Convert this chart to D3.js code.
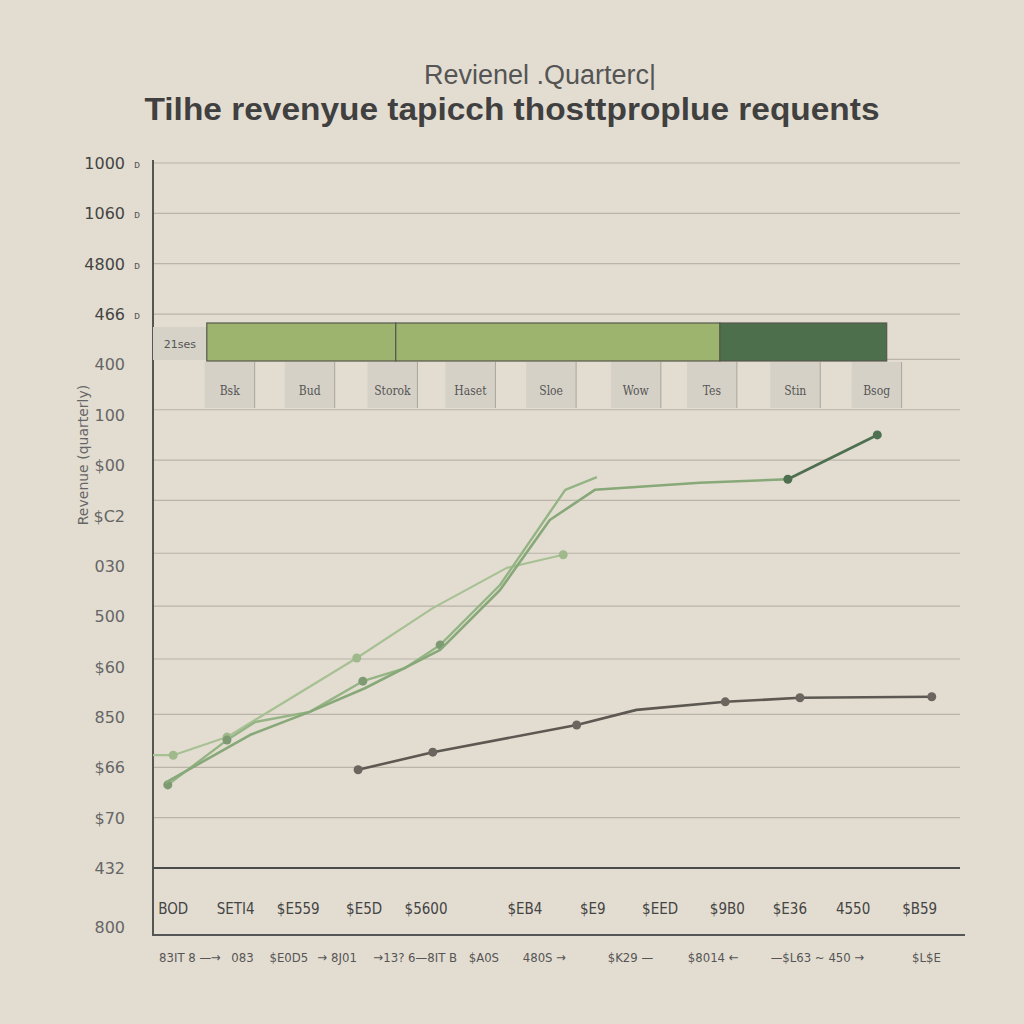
<!DOCTYPE html>
<html><head><meta charset="utf-8">
<script src="https://cdn.jsdelivr.net/npm/d3@7"></script>
<style>
html,body{margin:0;padding:0;background:#e3ddd1;}
svg{display:block;}
</style></head>
<body><svg id="c" width="1024" height="1024"></svg>
<script>
// ---- data ----
const titleTop = "Revienel .Quarterc|";
const titleMain = "Tilhe revenyue tapicch thosttproplue requents";
const yAxisTitle = "Revenue (quarterly)";
const yTickLabels = ["1000","1060","4800","466","400","100","$00","$C2","030","500","$60","850","$66","$70","432","800"];
const yTickValues = [1400,1300,1200,1100,1000,900,800,700,600,500,400,300,200,100,0,-117];
const gridValues = [1400,1300,1200,1100,1010,910,810,730,625,520,415,305,200,100];
const xTopLabels = ["BOD","SETI4","$E559","$E5D","$5600","$EB4","$E9","$EED","$9B0","$E36","4550","$B59"];
const xTopPos = [0.3,1.23,2.16,3.14,4.06,5.53,6.54,7.54,8.54,9.47,10.41,11.4];
const xBottomLabels = ["83IT 8 \u2014\u2192","083","$E0D5","\u2192 8J01","\u219213? 6\u20148IT B","$A0S","480S \u2192","$K29 \u2014","$8014 \u2190","\u2014$L63 ~ 450 \u2192","$L$E"];
const xBottomPos = [0.55,1.33,2.02,2.74,3.9,4.92,5.82,7.1,8.33,9.88,11.5];
const legendBarLabel = "21ses";
const legendSegStart = [0.80,3.61,8.43];
const legendSegEnd = [3.61,8.43,10.91];
const legendSegKind = ["light","light","dark"];
const legendLabels = ["Bsk","Bud","Storok","Haset","Sloe","Wow","Tes","Stin","Bsog"];
const legendLabelPos = [1.14,2.33,3.56,4.72,5.92,7.18,8.31,9.55,10.76];

const seriesAx = [0.0,0.30,1.10,3.03,4.16,5.26,6.10];
const seriesAy = [224,224,260,417,516,596,622];
const seriesBx = [0.22,1.10,1.52,2.33,3.12,3.75,4.27,5.16,6.13,6.60];
const seriesBy = [165,254,290,310,371,397,443,562,751,776];
const seriesCx = [0.18,1.44,2.33,3.15,4.27,5.16,5.90,6.57,8.13,9.44];
const seriesCy = [169,264,310,357,433,552,691,751,765,772];
const seriesDx = [9.44,10.77];
const seriesDy = [772,860];
const seriesEx = [3.05,4.16,6.30,7.19,8.51,9.62,11.58];
const seriesEy = [195,230,284,314,330,338,340];

// ---- drawing ----
const svg = d3.select("#c");
svg.append("rect").attr("width",1024).attr("height",1024).attr("fill","#e3ddd1");

const x = d3.scaleLinear().domain([0,12]).range([153,960]);
const y = d3.scaleLinear().domain([0,1400]).range([868,163]);

// titles
svg.append("text").attr("x",540).attr("y",84).attr("text-anchor","middle")
  .attr("font-family","Liberation Sans, Arial, sans-serif").attr("font-size",27)
  .attr("fill","#555").text(titleTop);
svg.append("text").attr("x",512).attr("y",120).attr("text-anchor","middle")
  .attr("font-family","Liberation Sans, Arial, sans-serif").attr("font-weight","bold")
  .attr("font-size",31).attr("fill","#404040").attr("textLength",735)
  .attr("lengthAdjust","spacingAndGlyphs").text(titleMain);

// grid
svg.append("g").selectAll("line").data(gridValues).join("line")
  .attr("x1",x(0)).attr("x2",x(12)).attr("y1",d=>y(d)).attr("y2",d=>y(d))
  .attr("stroke","#b9b3a8").attr("stroke-width",1.2);

// y tick labels
const yg = svg.append("g");
yg.selectAll("text").data(yTickLabels).join("text")
  .attr("x",125).attr("y",(d,i)=>y(yTickValues[i])+6).attr("text-anchor","end")
  .attr("font-family","DejaVu Sans, sans-serif").attr("font-size",16)
  .attr("fill",(d,i)=>i<4?"#444":"#666").text(d=>d);
yg.selectAll("text.m").data(yTickValues.slice(0,4)).join("text").attr("class","m")
  .attr("x",137).attr("y",d=>y(d)+5).attr("text-anchor","middle")
  .attr("font-family","DejaVu Sans, sans-serif").attr("font-size",10).attr("fill","#555").text("\u1d05");

// y axis title
svg.append("text").attr("transform","translate(88,455) rotate(-90)").attr("text-anchor","middle")
  .attr("font-family","DejaVu Sans, sans-serif").attr("font-size",14).attr("fill","#666")
  .text(yAxisTitle);

// axes lines
svg.append("line").attr("x1",153).attr("x2",153).attr("y1",160).attr("y2",936)
  .attr("stroke","#555").attr("stroke-width",2);
svg.append("line").attr("x1",153).attr("x2",x(12)).attr("y1",y(0)).attr("y2",y(0))
  .attr("stroke","#4a4a4a").attr("stroke-width",2.2);
svg.append("line").attr("x1",153).attr("x2",965).attr("y1",935).attr("y2",935)
  .attr("stroke","#555").attr("stroke-width",2);

// x labels
svg.append("g").selectAll("text").data(xTopLabels).join("text")
  .attr("x",(d,i)=>x(xTopPos[i])).attr("y",914).attr("text-anchor","middle")
  .attr("font-family","DejaVu Sans Condensed, DejaVu Sans, sans-serif").attr("font-size",15)
  .attr("fill","#444").text(d=>d);
svg.append("g").selectAll("text").data(xBottomLabels).join("text")
  .attr("x",(d,i)=>x(xBottomPos[i])).attr("y",962).attr("text-anchor","middle")
  .attr("font-family","DejaVu Sans Condensed, DejaVu Sans, sans-serif").attr("font-size",13)
  .attr("fill","#555").text(d=>d);

// legend bar
const lg = svg.append("g");
lg.append("rect").attr("x",153).attr("y",327).attr("width",x(legendSegStart[0])-153).attr("height",33)
  .attr("fill","#d6d2c8");
lg.append("text").attr("x",(153+x(legendSegStart[0]))/2).attr("y",348).attr("text-anchor","middle")
  .attr("font-family","DejaVu Sans, sans-serif").attr("font-size",11).attr("fill","#555").text(legendBarLabel);
lg.selectAll("rect.lb").data(legendLabels).join("rect").attr("class","lb")
  .attr("x",(d,i)=>x(legendLabelPos[i])-25).attr("y",362).attr("width",50).attr("height",46)
  .attr("fill","#d5d1c7");
lg.selectAll("line.lv").data(legendLabelPos).join("line").attr("class","lv")
  .attr("x1",d=>x(d)+25).attr("x2",d=>x(d)+25).attr("y1",362).attr("y2",408)
  .attr("stroke","#aaa49a").attr("stroke-width",1);
lg.selectAll("text.lt").data(legendLabels).join("text").attr("class","lt")
  .attr("x",(d,i)=>x(legendLabelPos[i])).attr("y",395).attr("text-anchor","middle")
  .attr("font-family","DejaVu Serif Condensed, DejaVu Serif, serif").attr("font-size",12)
  .attr("fill","#555").text(d=>d);
lg.selectAll("rect.seg").data(legendSegStart).join("rect").attr("class","seg")
  .attr("x",d=>x(d)).attr("y",323).attr("width",(d,i)=>x(legendSegEnd[i])-x(d)).attr("height",38)
  .attr("fill",(d,i)=>legendSegKind[i]==="dark"?"#4e6f4b":"#9db46f")
  .attr("stroke","#56584c").attr("stroke-width",1.2);

// lines
const line = d3.line().x(d=>x(d[0])).y(d=>y(d[1]));
const zip = (a,b)=>a.map((v,i)=>[v,b[i]]);
const series = [
  {pts:zip(seriesAx,seriesAy), color:"#a7c094", w:2.2, marks:[1,2,3,6], mc:"#9fb98c"},
  {pts:zip(seriesBx,seriesBy), color:"#94b484", w:2.4, marks:[0,1,4,6], mc:"#7d9a72"},
  {pts:zip(seriesCx,seriesCy), color:"#87a878", w:2.6, marks:[], mc:"#87a878"},
  {pts:zip(seriesDx,seriesDy), color:"#4e7050", w:2.8, marks:[0,1], mc:"#4e7050"},
  {pts:zip(seriesEx,seriesEy), color:"#5d5852", w:2.6, marks:[0,1,2,4,5,6], mc:"#6b6560"}
];
const lines = svg.append("g");
series.forEach(s=>{
  lines.append("path").datum(s.pts).attr("d",line).attr("fill","none")
    .attr("stroke",s.color).attr("stroke-width",s.w).attr("stroke-linejoin","round");
  lines.append("g").selectAll("circle").data(s.marks.map(i=>s.pts[i])).join("circle")
    .attr("cx",d=>x(d[0])).attr("cy",d=>y(d[1])).attr("r",4.5).attr("fill",s.mc);
});
</script></body></html>
